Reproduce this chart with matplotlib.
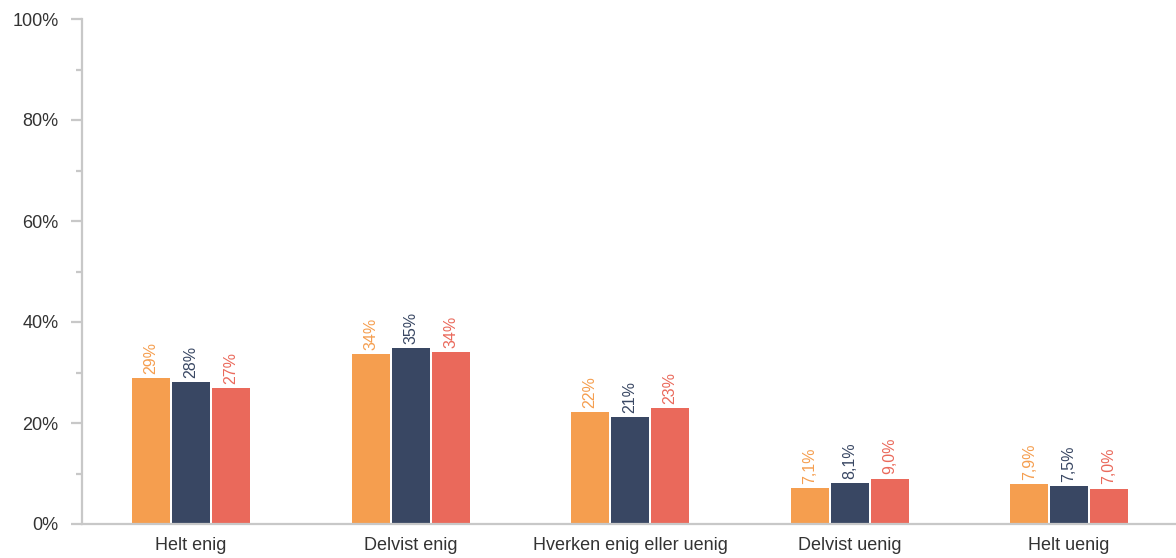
import matplotlib
matplotlib.use("Agg")
import matplotlib.pyplot as plt
from matplotlib.ticker import MultipleLocator, FuncFormatter
import numpy as np

categories = ["Helt enig", "Delvist enig", "Hverken enig eller uenig", "Delvist uenig", "Helt uenig"]
series_a = [28.9, 33.7, 22.2, 7.1, 7.9]
series_b = [28.1, 34.9, 21.2, 8.1, 7.5]
series_c = [26.9, 34.1, 23.0, 9.0, 7.0]
colors = ["#F59E4F", "#394763", "#EA695B"]

plt.rcParams['font.family'] = ['Liberation Sans', 'DejaVu Sans']

fig = plt.figure(figsize=(11.76, 5.58), dpi=100)
ax = fig.add_axes([82/1176, 1-524/558, 1-82/1176, (524-19)/558])

x = np.arange(len(categories))
w = 0.173
step = 0.182

def fmt(v):
    if v >= 10:
        return f"{round(v):d}%"
    return f"{v:.1f}".replace(".", ",") + "%"

for i, (vals, col) in enumerate(zip([series_a, series_b, series_c], colors)):
    pos = x + (i - 1) * step
    bars = ax.bar(pos, vals, width=w, color=col, zorder=2)
    for p, v in zip(pos, vals):
        ax.annotate(fmt(v), (p, v), xytext=(0, 3), textcoords="offset points",
                    rotation=90, ha="center", va="bottom", color=col, fontsize=11.5)

ax.set_xlim(-0.497, 4.487)
ax.set_ylim(0, 100)
ax.yaxis.set_major_locator(MultipleLocator(20))
ax.yaxis.set_minor_locator(MultipleLocator(10))
ax.yaxis.set_major_formatter(FuncFormatter(lambda v, p: f"{int(v)}%"))
ax.set_xticks(x)
ax.set_xticklabels(categories)

for s in ["top", "right"]:
    ax.spines[s].set_visible(False)
for s in ["left", "bottom"]:
    ax.spines[s].set_color("#c8c8c8")
    ax.spines[s].set_linewidth(1.6)
ax.tick_params(axis="y", which="major", length=8, width=1.6, color="#c8c8c8",
               labelsize=13, labelcolor="#333333", pad=9)
ax.tick_params(axis="y", which="minor", length=4, width=1.6, color="#c8c8c8")
ax.tick_params(axis="x", length=0, labelsize=13, labelcolor="#333333", pad=9)

fig.savefig("out.png", dpi=100)
